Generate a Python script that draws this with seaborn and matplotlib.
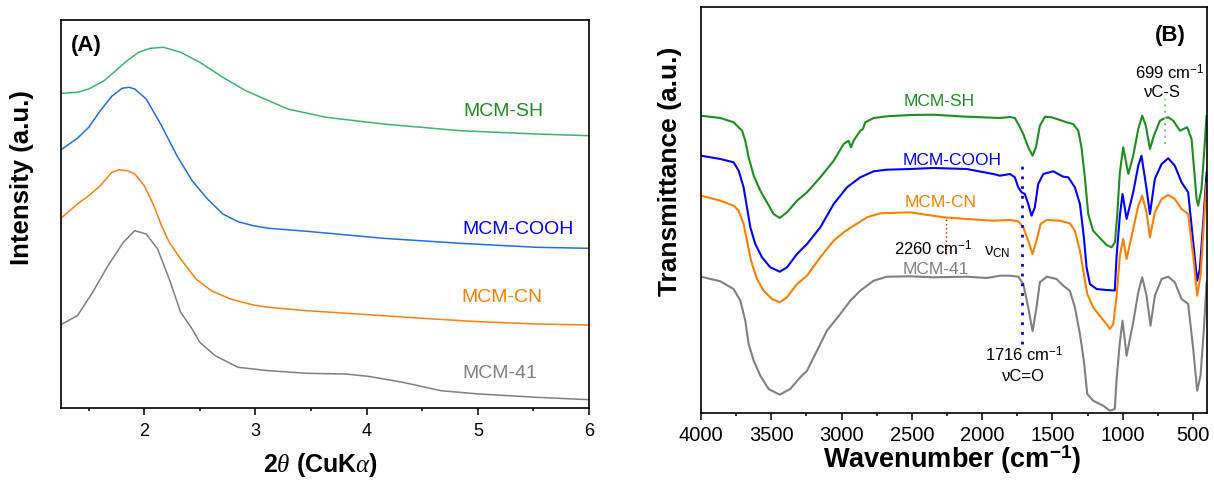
import numpy as np
import pandas as pd
import matplotlib
matplotlib.use("Agg")
import matplotlib.pyplot as plt
from matplotlib.ticker import MultipleLocator
import seaborn as sns

# ---------------- data: (A) low-angle XRD ----------------
xrd_sh_x = [1.26, 1.398, 1.50, 1.639, 1.742, 1.845, 1.948, 2.052, 2.172, 2.327, 2.499, 2.706,
            2.912, 3.119, 3.291, 3.635, 4.151, 4.84, 5.528, 6.0]
xrd_sh_y = [314.7, 315.7, 319, 327.3, 337.3, 347.3, 355.7, 359.7, 360.7, 355.7, 345.7, 330.7,
            317.3, 307.3, 299, 290.7, 284, 277.3, 274, 272.3]

xrd_cooh_x = [1.26, 1.398, 1.50, 1.604, 1.707, 1.80, 1.862, 1.914, 2.017, 2.155, 2.293, 2.43,
              2.568, 2.706, 2.843, 2.981, 3.119, 3.463, 4.151, 4.84, 5.528, 6.0]
xrd_cooh_y = [259, 269.7, 280.7, 297.3, 311.7, 319.7, 320.7, 319, 309, 282.3, 252.3, 227.3,
              209, 194, 186.3, 182.3, 179.7, 176.7, 169.7, 164.7, 160.7, 159.7]

xrd_cn_x = [1.26, 1.398, 1.50, 1.604, 1.707, 1.776, 1.845, 1.914, 2.0, 2.086, 2.155, 2.224,
            2.327, 2.465, 2.602, 2.775, 2.981, 3.119, 3.463, 4.014, 4.496, 5.012, 5.528, 6.0]
xrd_cn_y = [190.7, 204, 212.3, 222.3, 235.7, 238.3, 237.3, 234, 222.3, 202.3, 182.3, 165.7,
            149, 129, 117.3, 109, 103, 100.7, 97.3, 93.3, 89.7, 86.3, 84, 83]

xrd_41_x = [1.26, 1.398, 1.535, 1.673, 1.811, 1.914, 2.017, 2.12, 2.224, 2.327, 2.43, 2.499,
            2.637, 2.843, 3.119, 3.463, 3.807, 4.014, 4.324, 4.668, 5.012, 5.528, 6.0]
xrd_41_y = [84, 92.3, 115.7, 142.3, 165.7, 177.3, 174, 159, 129, 95.7, 79, 65.7,
            52.3, 40.7, 37.3, 34.7, 34, 31.7, 25.7, 17.3, 14, 10.7, 8.3]

# ---------------- data: (B) FTIR ----------------
ir_sh_w = [4000, 3862, 3768, 3708, 3685, 3661, 3625, 3578, 3531, 3483, 3440, 3388, 3317, 3246,
           3151, 3056, 2985, 2950, 2933, 2914, 2867, 2848, 2831, 2772, 2677, 2511, 2348, 2110,
           1873, 1802, 1767, 1743, 1707, 1672, 1641, 1617, 1589, 1553, 1506, 1447, 1399, 1352,
           1316, 1293, 1269, 1245, 1210, 1162, 1115, 1079, 1055, 1039, 1020, 996, 960, 925,
           889, 861, 835, 806, 778, 735, 699, 676, 640, 593, 541, 510, 474, 463, 439, 422, 403]
ir_sh_t = [297.3, 295, 290.7, 282.3, 272.3, 255.7, 237.3, 222.3, 210.7, 199, 195, 200.7, 212.3,
           220.7, 235.7, 252.3, 269, 272.3, 265.7, 272.3, 282.3, 284, 290.7, 295, 296.7, 298,
           298.3, 296.3, 295, 296, 295, 289, 279, 265.7, 257.3, 265.7, 287.3, 296.3, 295.7, 293,
           290.7, 289, 282.3, 265.7, 235.7, 199, 182.3, 175, 168, 165.7, 170.7, 197.3, 240.7,
           265.7, 239, 257.3, 284, 297.3, 287.3, 264, 277.3, 292.3, 295, 295.7, 292.3, 282.3,
           285.7, 274, 214, 207.3, 224, 257.3, 297.3]

ir_cooh_w = [4000, 3862, 3768, 3732, 3697, 3673, 3649, 3614, 3566, 3507, 3440, 3388, 3317, 3246,
             3151, 3056, 2961, 2867, 2772, 2677, 2511, 2348, 2110, 1921, 1873, 1802, 1767, 1743,
             1719, 1696, 1672, 1648, 1625, 1601, 1565, 1494, 1423, 1387, 1340, 1304, 1276, 1257,
             1233, 1186, 1115, 1056, 1043, 1020, 1001, 972, 925, 889, 866, 830, 806, 771, 723,
             676, 629, 581, 534, 498, 470, 451, 427, 403]
ir_cooh_t = [257.3, 254, 250.7, 242.3, 225.7, 205.7, 185.7, 169, 155.7, 145.7, 141.3, 145.7, 159,
             169, 185.7, 209, 225.7, 235.7, 241.7, 243.3, 244, 245, 244, 239, 237.3, 239, 235.7,
             225.7, 220.7, 219, 209, 197.3, 205.7, 229, 239, 241.7, 236.3, 235.7, 225.7, 209,
             175.7, 145.7, 129, 124, 123, 122.5, 157.3, 197.3, 219, 194, 220.7, 247.3, 257.3, 224,
             199, 234, 249, 254.7, 247.3, 230.7, 220.7, 170.7, 132.3, 144, 190.7, 240.7]

ir_cn_w = [4000, 3862, 3768, 3732, 3697, 3673, 3644, 3602, 3554, 3495, 3440, 3388, 3317, 3246,
           3151, 3056, 2985, 2914, 2819, 2724, 2511, 2276, 2110, 1921, 1802, 1743, 1707, 1672,
           1641, 1613, 1584, 1541, 1447, 1376, 1340, 1304, 1276, 1252, 1210, 1162, 1115, 1091,
           1067, 1043, 1020, 996, 972, 925, 889, 861, 830, 806, 771, 723, 676, 629, 581, 534,
           498, 470, 446, 422, 403]
ir_cn_t = [217.3, 212.3, 207.3, 202.3, 189, 172.3, 152.3, 134, 122.3, 114, 110.7, 115.7, 129,
           137.3, 155.7, 172.3, 180.7, 187.3, 195.7, 199.7, 200.7, 195.7, 194, 192.3, 193, 191.7,
           185.7, 172.3, 159, 172.3, 189, 193, 192.3, 189.7, 182.3, 162.3, 139, 119, 105.7, 97,
           89, 84, 89, 117.3, 157.3, 174, 154, 184, 207.3, 217.3, 200.7, 175.7, 200.7, 214, 218,
           214, 204, 199, 157.3, 117.3, 137.3, 190.7, 230.7]

ir_41_w = [4000, 3862, 3768, 3720, 3685, 3661, 3625, 3578, 3519, 3440, 3365, 3294, 3246, 3175,
           3104, 3009, 2938, 2867, 2772, 2677, 2511, 2348, 2110, 1968, 1873, 1802, 1743, 1707,
           1672, 1641, 1613, 1589, 1541, 1470, 1423, 1376, 1340, 1304, 1276, 1252, 1210, 1139,
           1091, 1056, 1043, 1020, 1001, 972, 925, 889, 861, 830, 802, 771, 723, 676, 629, 581,
           534, 498, 470, 446, 422, 403]
ir_41_t = [136.3, 131.7, 124, 112.3, 92.3, 69, 52.3, 37.3, 24, 18.3, 24, 35.7, 42.3, 62.3, 82.3,
           99, 112.3, 122.3, 132.3, 136.3, 136.7, 135.7, 136.3, 135, 137.3, 137.3, 136.3, 129,
           105.7, 81.7, 105.7, 130.7, 136.3, 134, 127.3, 122.3, 105.7, 79, 52.3, 19, 12.3, 7.3,
           2.3, 4, 34, 70.7, 92.3, 57.3, 90.7, 120.7, 135.7, 117.3, 87.3, 117.3, 134, 136.3,
           130.7, 114, 109, 64, 22.3, 37.3, 84, 130.7]

sample_names = ["MCM-SH", "MCM-COOH", "MCM-CN", "MCM-41"]
xrd_ticks = [2, 3, 4, 5, 6]
ir_ticks = [4000, 3500, 3000, 2500, 2000, 1500, 1000, 500]
peak_cn, peak_co, peak_cs = 2260, 1716, 699

# ---------------- style ----------------
sns.set_style("ticks")
plt.rcParams['font.family'] = ['Liberation Sans', 'DejaVu Sans']
plt.rcParams['mathtext.fontset'] = 'custom'
plt.rcParams['mathtext.rm'] = 'Liberation Sans'
plt.rcParams['mathtext.it'] = 'Liberation Serif:italic'
plt.rcParams['mathtext.bf'] = 'Liberation Sans:bold'
plt.rcParams['axes.linewidth'] = 1.2
plt.rcParams['axes.edgecolor'] = 'black'
plt.rcParams['text.color'] = 'black'
plt.rcParams['axes.labelcolor'] = 'black'
plt.rcParams['xtick.color'] = 'black'
plt.rcParams['ytick.color'] = 'black'

W, H = 1214, 485
fig = plt.figure(figsize=(W / 100, H / 100), dpi=100)
axA = fig.add_axes([60.5 / W, (H - 409) / H, 528.5 / W, 388 / H])
axB = fig.add_axes([701 / W, (H - 414) / H, 506 / W, 406 / H])

# ---- panel A ----
line_cols_A = ["#3cb371", "#1f6fe0", "#ff7f0e", "#7f7f7f"]
text_cols = ["#1e8c1e", "#0000ff", "#ff7f00", "#808080"]
xrd_sets = [(xrd_sh_x, xrd_sh_y), (xrd_cooh_x, xrd_cooh_y), (xrd_cn_x, xrd_cn_y), (xrd_41_x, xrd_41_y)]
for (xx, yy), c in zip(xrd_sets, line_cols_A):
    sns.lineplot(x=xx, y=yy, ax=axA, color=c, linewidth=1.1, sort=False, estimator=None)

axA.set_xlim(1.246, 6)
axA.set_ylim(0, 388)
axA.set_yticks([])
axA.set_xticks(xrd_ticks)
axA.xaxis.set_minor_locator(MultipleLocator(0.5))
axA.tick_params(axis='x', which='major', direction='out', length=5, width=1.1, labelsize=13,
                pad=5, colors='black')
axA.tick_params(axis='x', which='minor', direction='out', length=2.5, width=1.1, colors='black')
axA.set_xlabel("")
axA.set_ylabel("")
for sp in axA.spines.values():
    sp.set_visible(True)
    sp.set_color('black')

labA_pos = [(5.23, 298), (5.36, 179), (5.22, 112), (5.20, 36)]
for name, (tx, ty), c in zip(sample_names, labA_pos, text_cols):
    axA.text(tx, ty, name, color=c, fontsize=14, ha='center', va='center')
axA.text(0.049, 0.938, "(A)", transform=axA.transAxes, fontsize=16, fontweight='bold',
         ha='center', va='center', color='black')

fig.text(22 / W, 1 - 178 / H, "Intensity (a.u.)", rotation=90, fontsize=18.5,
         fontweight='bold', ha='center', va='center', color='black')
fig.text(321 / W, 1 - 465 / H, r"2$\theta$ (CuK$\alpha$)", fontsize=18,
         fontweight='bold', ha='center', va='center', color='black')

# ---- panel B ----
line_cols_B = ["#1e8c1e", "#0000ff", "#ff7f00", "#808080"]
ir_sets = [(ir_sh_w, ir_sh_t), (ir_cooh_w, ir_cooh_t), (ir_cn_w, ir_cn_t), (ir_41_w, ir_41_t)]
for (xx, yy), c in zip(ir_sets, line_cols_B):
    sns.lineplot(x=xx, y=yy, ax=axB, color=c, linewidth=1.5, sort=False, estimator=None)

axB.set_xlim(4000, 400)
axB.set_ylim(0, 406)
axB.set_yticks([])
axB.set_xticks(ir_ticks)
axB.xaxis.set_minor_locator(MultipleLocator(250))
axB.tick_params(axis='x', which='major', direction='out', length=5, width=1.1, labelsize=14.5,
                pad=4, colors='black')
axB.tick_params(axis='x', which='minor', direction='out', length=2.5, width=1.1, colors='black')
axB.set_xlabel("")
axB.set_ylabel("")
for sp in axB.spines.values():
    sp.set_visible(True)
    sp.set_color('black')

labB_pos = [(2307, 312), (2215, 253), (2293, 211), (2329, 144)]
for name, (tx, ty), c in zip(sample_names, labB_pos, text_cols):
    axB.text(tx, ty, name, color=c, fontsize=12.5, ha='center', va='center')

# annotations
axB.vlines(peak_cn, 159, 196, colors='red', linestyles=(0, (1, 2)), linewidth=1.0)
axB.text(2346, 165, r"2260 cm$^{-1}$", fontsize=12, ha='center', va='center', color='black')
axB.text(1891, 162, r"ν$_{\mathrm{CN}}$", fontsize=12, ha='center', va='center', color='black')

axB.vlines(peak_co, 69, 251, colors='#0000ff', linestyles=(0, (1, 2.5)), linewidth=2.0)
axB.text(1703, 59, r"1716 cm$^{-1}$", fontsize=12, ha='center', va='center', color='black')
axB.text(1703, 37, "νC=O", fontsize=12, ha='center', va='center', color='black')

axB.vlines(peak_cs, 269, 314, colors='#80c080', linestyles=(0, (1, 2)), linewidth=1.5)
axB.text(664, 341, r"699 cm$^{-1}$", fontsize=12, ha='center', va='center', color='black')
axB.text(714, 321, "νC-S", fontsize=12, ha='center', va='center', color='black')

axB.text(0.927, 0.933, "(B)", transform=axB.transAxes, fontsize=16, fontweight='bold',
         ha='center', va='center', color='black')

fig.text(670 / W, 1 - 171 / H, "Transmittance (a.u.)", rotation=90, fontsize=19,
         fontweight='bold', ha='center', va='center', color='black')
fig.text(952 / W, 1 - 460 / H, r"Wavenumber (cm$^{\mathbf{-1}}$)", fontsize=19.5,
         fontweight='bold', ha='center', va='center', color='black')

fig.savefig("out.png", dpi=100)
